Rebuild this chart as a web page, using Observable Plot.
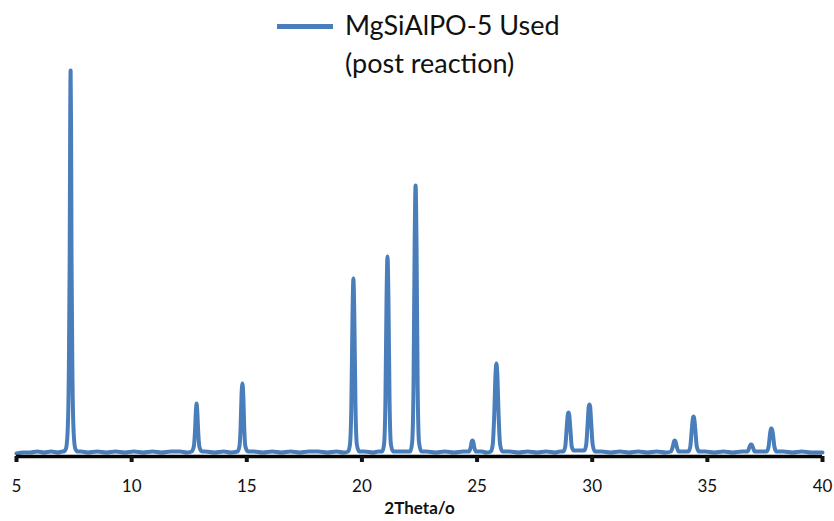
<!DOCTYPE html>
<html>
<head>
<meta charset="utf-8">
<script src="https://cdn.jsdelivr.net/npm/d3@7"></script>
<script src="https://cdn.jsdelivr.net/npm/@observablehq/plot@0.6"></script>
<style>
  html, body { margin: 0; padding: 0; background: #fff; }
  #wrap { position: relative; width: 834px; height: 521px; font-family: Lato, "Open Sans", sans-serif; }
  #legend { position: absolute; left: 277px; top: 6px; display: flex; align-items: flex-start; }
  #legend .sw { width: 56px; height: 5px; background: #4a7ebb; margin-top: 18px; margin-right: 12px; }
  #legend .tx { font-size: 27px; line-height: 38px; color: #111; }
</style>
</head>
<body>
<div id="wrap">
  <div id="chart"></div>
  <div id="legend"><div class="sw"></div><div class="tx">MgSiAlPO-5 Used<br>(post reaction)</div></div>
</div>
<script>
// Series name / axis text
const seriesName = "MgSiAlPO-5 Used (post reaction)";
const xLabel = "2Theta/o";
const xTicks = [5, 10, 15, 20, 25, 30, 35, 40];

// Background (baseline) readings: [2theta, intensity]
const backgroundPoints = [
  [5.0, 3], [5.3, 4], [5.6, 4], [5.9, 5], [6.2, 4], [6.5, 5], [6.8, 4], [7.0, 5],
  [7.8, 5], [8.1, 4], [8.5, 5], [8.9, 4], [9.3, 5], [9.7, 4], [10.1, 5], [10.5, 4],
  [10.9, 5], [11.3, 4], [11.7, 5], [12.1, 5], [12.4, 4],
  [13.2, 5], [13.6, 4], [14.0, 5], [14.3, 4],
  [15.3, 5], [15.7, 4], [16.1, 5], [16.5, 4], [16.9, 5], [17.3, 4], [17.7, 5], [18.1, 5], [18.5, 4], [18.9, 5], [19.2, 4],
  [20.1, 5], [20.5, 4], [20.7, 5],
  [21.6, 5], [21.9, 5],
  [22.8, 5], [23.2, 4], [23.6, 5], [24.0, 4], [24.4, 5],
  [25.2, 5], [25.4, 4],
  [26.4, 5], [26.8, 4], [27.2, 5], [27.6, 4], [28.0, 5], [28.4, 4], [28.6, 5],
  [29.4, 6], [29.5, 6],
  [30.4, 5], [30.8, 4], [31.2, 5], [31.6, 4], [32.0, 5], [32.4, 4], [32.8, 5], [33.2, 4],
  [33.95, 5], [34.05, 5],
  [34.9, 5], [35.3, 4], [35.7, 5], [36.1, 4], [36.5, 5],
  [37.3, 5], [37.4, 5],
  [38.3, 5], [38.7, 4], [39.1, 5], [39.5, 4], [40.0, 4]
];

// Peak readings: [2theta, intensity]
const peakPoints = [
  [7.05, 5], [7.15, 8], [7.22, 25], [7.27, 80], [7.31, 200], [7.33, 330], [7.35, 386], [7.37, 330], [7.39, 200], [7.43, 80], [7.48, 25], [7.55, 8], [7.65, 5],
  [12.6, 5], [12.7, 10], [12.75, 25], [12.79, 45], [12.82, 53], [12.85, 45], [12.89, 25], [12.94, 10], [13.05, 5],
  [14.6, 5], [14.68, 10], [14.73, 28], [14.77, 60], [14.81, 73], [14.85, 60], [14.89, 28], [14.94, 10], [15.05, 5],
  [19.4, 5], [19.48, 12], [19.54, 50], [19.59, 140], [19.63, 178], [19.67, 140], [19.72, 50], [19.78, 12], [19.88, 5],
  [20.88, 5], [20.96, 12], [21.02, 55], [21.07, 160], [21.11, 200], [21.15, 160], [21.2, 55], [21.26, 12], [21.36, 5],
  [22.1, 5], [22.18, 14], [22.24, 70], [22.29, 215], [22.33, 271], [22.37, 215], [22.42, 70], [22.48, 14], [22.58, 5],
  [24.65, 5], [24.72, 9], [24.77, 15], [24.8, 16], [24.83, 15], [24.88, 9], [24.95, 5],
  [25.6, 5], [25.68, 12], [25.74, 38], [25.8, 82], [25.84, 93], [25.88, 82], [25.94, 38], [26.0, 12], [26.1, 5],
  [28.75, 5], [28.83, 10], [28.89, 28], [28.94, 42], [28.97, 44], [29.0, 42], [29.05, 28], [29.11, 10], [29.2, 6],
  [29.66, 6], [29.74, 12], [29.8, 32], [29.85, 50], [29.88, 52], [29.91, 50], [29.96, 32], [30.02, 12], [30.12, 5],
  [33.42, 5], [33.5, 10], [33.55, 15], [33.58, 16], [33.62, 15], [33.67, 10], [33.75, 5],
  [34.18, 5], [34.26, 10], [34.32, 26], [34.37, 38], [34.4, 40], [34.43, 38], [34.48, 26], [34.54, 10], [34.64, 5],
  [36.75, 5], [36.82, 9], [36.88, 12], [36.92, 12], [36.98, 9], [37.05, 5],
  [37.58, 5], [37.66, 10], [37.72, 22], [37.76, 28], [37.8, 28], [37.85, 22], [37.91, 10], [38.0, 5]
];

const pattern = backgroundPoints.concat(peakPoints)
  .map(([x, y]) => ({x, y}))
  .sort((a, b) => a.x - b.x);

const chart = Plot.plot({
  width: 834,
  height: 521,
  marginLeft: 16,
  marginRight: 12,
  marginTop: 56,
  marginBottom: 65,
  style: {fontFamily: "Lato, 'Open Sans', sans-serif", background: "#fff", color: "#111"},
  x: {domain: [5, 40]},
  y: {domain: [0, 400], axis: null},
  marks: [
    Plot.line(pattern, {x: "x", y: "y", stroke: "#4a7ebb", strokeWidth: 4, curve: "monotone-x", strokeLinejoin: "round"}),
    Plot.ruleY([0], {stroke: "#000", strokeWidth: 3.5}),
    Plot.axisX({ticks: xTicks, tickSize: 6, tickPadding: 17, strokeWidth: 4, fontSize: 17, tickFormat: d => String(d), label: null}),
    Plot.text([xLabel], {frameAnchor: "bottom", dy: 57, fontSize: 17, fontWeight: "bold", fill: "#111"})
  ]
});
document.getElementById("chart").appendChild(chart);
</script>
</body>
</html>
